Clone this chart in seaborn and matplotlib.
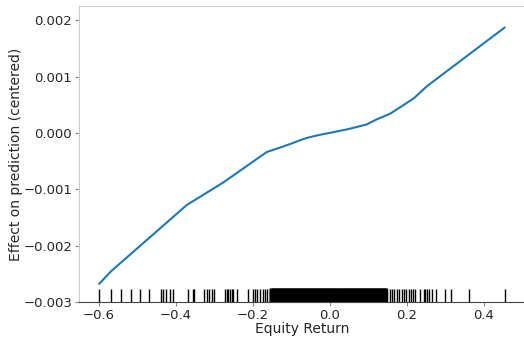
import matplotlib
matplotlib.use("Agg")
import matplotlib.pyplot as plt
import seaborn as sns

sns.set_style("white")
plt.rcParams["font.family"] = ["DejaVu Sans"]

# effect curve
eff_x = [-0.600, -0.568, -0.372, -0.277, -0.164, -0.129, -0.100, -0.077, -0.060,
         -0.030, 0.000, 0.050, 0.096, 0.122, 0.157, 0.218, 0.253, 0.455]
eff_y = [-0.00268, -0.00245, -0.00128, -0.00088, -0.00034, -0.00026, -0.00019,
         -0.00013, -0.00009, -0.00004, 0.00000, 0.00007, 0.00015, 0.00024, 0.00034,
         0.00061, 0.00083, 0.00187]

# observed values (rug)
rug_left = [-0.600, -0.570, -0.543, -0.517, -0.494, -0.470, -0.439, -0.433, -0.426,
            -0.416, -0.409, -0.370, -0.357, -0.353, -0.327, -0.320, -0.314, -0.307,
            -0.301, -0.272, -0.268, -0.264, -0.260, -0.255, -0.251, -0.242, -0.212,
            -0.200, -0.195, -0.189, -0.182, -0.174, -0.168, -0.163, -0.155]
rug_mid = [-0.152, -0.149, -0.146, -0.143, -0.140, -0.137, -0.134, -0.131, -0.128,
           -0.125, -0.122, -0.119, -0.116, -0.113, -0.110, -0.107, -0.104, -0.101,
           -0.098, -0.095, -0.092, -0.089, -0.086, -0.083, -0.080, -0.077, -0.074,
           -0.071, -0.068, -0.065, -0.062, -0.059, -0.056, -0.053, -0.050, -0.047,
           -0.044, -0.041, -0.038, -0.035, -0.032, -0.029, -0.026, -0.023, -0.020,
           -0.017, -0.014, -0.011, -0.008, -0.005, -0.002, 0.001, 0.004, 0.007,
           0.010, 0.013, 0.016, 0.019, 0.022, 0.025, 0.028, 0.031, 0.034, 0.037,
           0.040, 0.043, 0.046, 0.049, 0.052, 0.055, 0.058, 0.061, 0.064, 0.067,
           0.070, 0.073, 0.076, 0.079, 0.082, 0.085, 0.088, 0.091, 0.094, 0.097,
           0.100, 0.103, 0.106, 0.109, 0.112, 0.115, 0.118, 0.121, 0.124, 0.127,
           0.130, 0.133, 0.136, 0.139, 0.142, 0.145, 0.147]
rug_right = [0.150, 0.157, 0.162, 0.167, 0.174, 0.181, 0.188, 0.193, 0.199, 0.206,
             0.211, 0.216, 0.221, 0.235, 0.244, 0.249, 0.254, 0.259, 0.265, 0.277,
             0.299, 0.315, 0.362, 0.457]

fig = plt.figure(figsize=(5.24, 3.40), dpi=100)
ax = fig.add_axes([0.151, 0.112, 0.851, 0.870])

sns.lineplot(x=eff_x, y=eff_y, ax=ax, color="#1f77b4", linewidth=1.5)
sns.rugplot(x=rug_left + rug_right, ax=ax, height=0.045, color="k", linewidth=1.0,
            expand_margins=False)
# the crowded middle part prints as a solid block
sns.rugplot(x=rug_mid, ax=ax, height=0.045, color="k", linewidth=2.6,
            expand_margins=False, snap=False, capstyle="butt")

ax.set_xlim(-0.652, 0.508)
ax.set_ylim(-0.003, 0.00225)
ax.set_xticks([-0.6, -0.4, -0.2, 0.0, 0.2, 0.4])
ax.set_yticks([-0.003, -0.002, -0.001, 0.0, 0.001, 0.002])
ax.set_yticklabels(["\u22120.003", "\u22120.002", "\u22120.001", "0.000", "0.001", "0.002"])
ax.set_xticklabels(["\u22120.6", "\u22120.4", "\u22120.2", "0.0", "0.2", "0.4"])

ax.set_xlabel("Equity Return", fontsize=10, labelpad=0)
ax.set_ylabel("Effect on prediction (centered)", fontsize=10, labelpad=0)
ax.tick_params(axis="both", labelsize=9.5, length=3, width=0.8, color="#888888",
               pad=2, bottom=True, left=True)

for side in ["left", "top", "right"]:
    ax.spines[side].set_color("#cccccc")
ax.spines["bottom"].set_color("#444444")

fig.savefig("out.png", dpi=100)
